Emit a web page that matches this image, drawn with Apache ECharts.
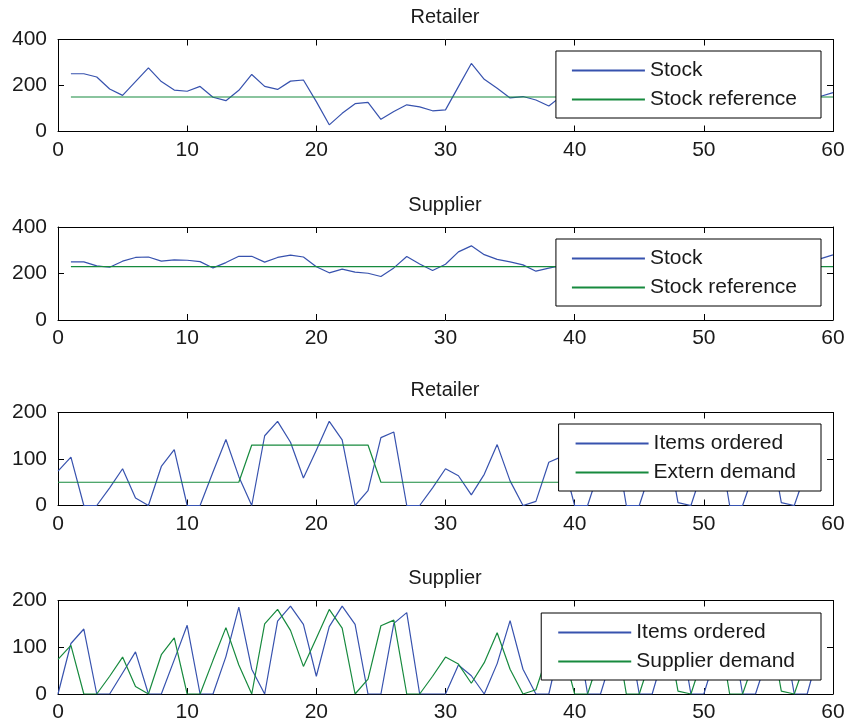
<!DOCTYPE html>
<html>
<head>
<meta charset="utf-8">
<script src="https://cdn.jsdelivr.net/npm/echarts@6/dist/echarts.min.js"></script>
<style>
html,body{margin:0;padding:0;background:#fff;}
#chart{width:848px;height:728px;}
</style>
</head>
<body>
<div id="chart"></div>
<script>
// ---- data (stock panels: t = 1..60, order panels: t = 0..59) ----
const panelTitles = ['Retailer', 'Supplier', 'Retailer', 'Supplier'];
const xTicks = [0, 10, 20, 30, 40, 50, 60];

const retailerStock = [251,251,237,185,157,217,277,217,180,175,196,149,134,179,248,196,183,219,224,130,
  29,79,121,127,53,87,116,107,90,94,195,296,227,188,146,152,137,111,155,190,
  230,200,165,150,170,210,185,160,140,175,205,180,155,145,170,195,175,150,152,169];
const retailerStockRef = [150,150,150,150,150,150,150,150,150,150,150,150,150,150,150,150,150,150,150,150,
  150,150,150,150,150,150,150,150,150,150,150,150,150,150,150,150,150,150,150,150,
  150,150,150,150,150,150,150,150,150,150,150,150,150,150,150,150,150,150,150,150];

const supplierStock = [250,250,233,227,253,269,271,253,259,257,251,224,247,274,274,249,269,279,271,229,
  203,219,206,201,187,224,273,241,213,240,293,319,281,261,250,237,210,223,235,255,
  270,250,240,260,275,255,245,230,250,265,280,260,240,235,255,270,260,250,263,280];
const supplierStockRef = [230,230,230,230,230,230,230,230,230,230,230,230,230,230,230,230,230,230,230,230,
  230,230,230,230,230,230,230,230,230,230,230,230,230,230,230,230,230,230,230,230,
  230,230,230,230,230,230,230,230,230,230,230,230,230,230,230,230,230,230,230,230];

const retailerOrders = [74,104,0,0,38,79,16,0,84,120,0,0,72,142,62,0,150,181,136,59,
  119,181,141,0,32,146,158,0,0,38,79,64,23,67,131,53,0,9,93,105,
  0,0,85,165,0,0,85,160,6,0,85,165,0,0,80,160,6,0,80,150];
const externDemand = [50,50,50,50,50,50,50,50,50,50,50,50,50,50,50,130,130,130,130,130,
  130,130,130,130,130,50,50,50,50,50,50,50,50,50,50,50,50,50,50,50,
  50,50,50,50,50,50,50,50,50,50,50,50,50,50,50,50,50,50,50,50];

const supplierOrders = [0,108,139,0,0,45,90,0,0,73,147,0,0,80,186,53,0,156,188,149,
  38,144,188,149,0,0,151,174,0,0,0,62,39,0,65,157,53,0,0,120,
  165,0,0,90,160,0,0,95,160,0,0,90,165,0,0,85,160,0,0,100];
const supplierDemand = retailerOrders; // supplier demand equals retailer's orders

// ---- styling / layout ----
const BLUE = '#3752ae';
const GREEN = '#178a3e';
const FONT = "'Liberation Sans', Arial, Helvetica, sans-serif";
const TXT = '#1a1a1a';
const FS = 21;

const grids = [
  {left: 58, right: 15, top: 39.5, height: 92},
  {left: 58, right: 15, top: 227, height: 93},
  {left: 58, right: 15, top: 412.5, height: 93},
  {left: 58, right: 15, top: 600.5, height: 93.5}
];
const yMax = [400, 400, 200, 200];
const yInt = [200, 200, 100, 100];

const xAxes = [], yAxes = [], titles = [];
grids.forEach((g, i) => {
  const common = {
    gridIndex: i, type: 'value', min: 0, max: 60, interval: 10,
    axisLine: {show: true, onZero: false, lineStyle: {color: '#000', width: 1}},
    axisTick: {show: true, inside: true, length: 6, lineStyle: {color: '#000', width: 1}},
    splitLine: {show: false}
  };
  xAxes.push(Object.assign({}, common, {position: 'bottom',
    axisLabel: {show: true, margin: 8, color: TXT, fontSize: FS, fontFamily: FONT}}));
  xAxes.push(Object.assign({}, common, {position: 'top', axisLabel: {show: false}}));
  const ycommon = {
    gridIndex: i, type: 'value', min: 0, max: yMax[i], interval: yInt[i],
    axisLine: {show: true, onZero: false, lineStyle: {color: '#000', width: 1}},
    axisTick: {show: true, inside: true, length: 6, lineStyle: {color: '#000', width: 1}},
    splitLine: {show: false}
  };
  yAxes.push(Object.assign({}, ycommon, {position: 'left',
    axisLabel: {show: true, margin: 11, color: TXT, fontSize: FS, fontFamily: FONT}}));
  yAxes.push(Object.assign({}, ycommon, {position: 'right', axisLabel: {show: false}}));
  titles.push({
    text: panelTitles[i], left: 445, top: g.top - 32, textAlign: 'center', padding: 0,
    textStyle: {fontSize: 20, fontWeight: 'normal', color: TXT, fontFamily: FONT}
  });
});

function mkSeries(name, values, startT, gi, color) {
  return {
    name: name, type: 'line', xAxisIndex: gi * 2, yAxisIndex: gi * 2,
    data: values.map((v, k) => [k + startT, v]),
    symbol: 'none', showSymbol: false, animation: false, clip: true,
    lineStyle: {color: color, width: 1.2}, itemStyle: {color: color}
  };
}

const series = [
  mkSeries('Stock', retailerStock, 1, 0, BLUE),
  mkSeries('Stock reference', retailerStockRef, 1, 0, GREEN),
  mkSeries('Stock', supplierStock, 1, 1, BLUE),
  mkSeries('Stock reference', supplierStockRef, 1, 1, GREEN),
  mkSeries('Items ordered', retailerOrders, 0, 2, BLUE),
  mkSeries('Extern demand', externDemand, 0, 2, GREEN),
  mkSeries('Items ordered', supplierOrders, 0, 3, BLUE),
  mkSeries('Supplier demand', supplierDemand, 0, 3, GREEN)
];

function mkLegend(names, top, pad) {
  return {
    orient: 'vertical', right: 27, top: top, data: names,
    backgroundColor: '#fff', borderColor: '#000', borderWidth: 1,
    padding: pad, itemWidth: 73, itemHeight: 14, itemGap: 8,
    selectedMode: false,
    itemStyle: {opacity: 0},
    textStyle: {fontSize: FS, color: TXT, fontFamily: FONT}
  };
}

const option = {
  backgroundColor: '#fff',
  animation: false,
  title: titles,
  grid: grids,
  xAxis: xAxes,
  yAxis: yAxes,
  legend: [
    mkLegend(['Stock', 'Stock reference'], 51, [9, 24, 8, 15]),
    mkLegend(['Stock', 'Stock reference'], 239, [9, 24, 8, 15]),
    mkLegend(['Items ordered', 'Extern demand'], 424, [9, 25, 8, 16]),
    mkLegend(['Items ordered', 'Supplier demand'], 613, [9, 26, 8, 16])
  ],
  series: series
};

const chart = echarts.init(document.getElementById('chart'), null, {renderer: 'canvas'});
chart.setOption(option);
</script>
</body>
</html>
